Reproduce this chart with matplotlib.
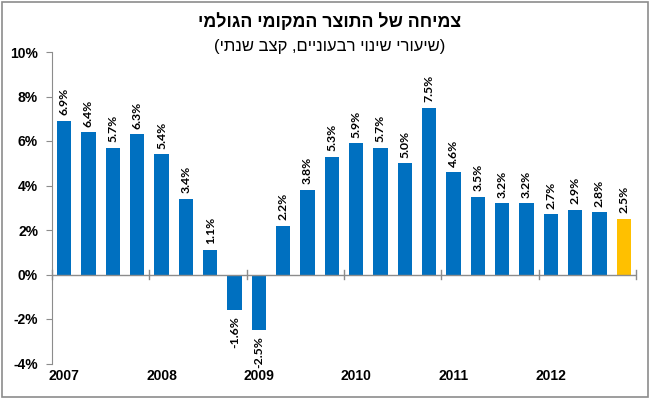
import matplotlib
matplotlib.use("Agg")
import matplotlib.pyplot as plt
from matplotlib.patches import Rectangle

title_logical = "צמיחה של התוצר המקומי הגולמי"
subtitle_logical = "(שיעורי שינוי רבעוניים, קצב שנתי)"
years = ["2007", "2008", "2009", "2010", "2011", "2012"]
values = [6.9, 6.4, 5.7, 6.3, 5.4, 3.4, 1.1, -1.6, -2.5, 2.2, 3.8, 5.3,
          5.9, 5.7, 5.0, 7.5, 4.6, 3.5, 3.2, 3.2, 2.7, 2.9, 2.8, 2.5]
yticks = [-4, -2, 0, 2, 4, 6, 8, 10]

def visual(s):
    r = s[::-1]
    return r.translate(str.maketrans("()", ")("))

plt.rcParams['font.family'] = ['Liberation Sans', 'DejaVu Sans']

fig = plt.figure(figsize=(6.5, 3.99), dpi=100)
fig.patches.append(Rectangle((0.003, 0.004), 0.994, 0.99, transform=fig.transFigure,
                             fill=False, edgecolor='#8c8c8c', linewidth=1.2))
ax = fig.add_axes([52/650, 1-363.5/399, (636-52)/650, (363.5-52)/399])

n = len(values)
x = list(range(n))
colors = ['#0070C0'] * (n - 1) + ['#FFC000']
ax.bar(x, values, width=0.59, color=colors, zorder=2)

lab_font = ['Lato', 'DejaVu Sans']
for xi, v in zip(x, values):
    if v >= 0:
        ax.text(xi, v + 0.25, f"{v:.1f}%", rotation=90, ha='center', va='bottom',
                fontsize=8.8, fontweight='bold', family=lab_font)
    else:
        ax.text(xi, v - 0.25, f"{v:.1f}%", rotation=90, ha='center', va='top',
                fontsize=8.8, fontweight='bold', family=lab_font)

ax.set_xlim(-0.5, n - 0.5)
ax.set_ylim(-4, 10)
ax.set_yticks(yticks)
ax.set_yticklabels([f"{t}%" for t in yticks], fontsize=10, fontweight='bold')
ax.tick_params(axis='y', direction='out', length=4, color='#8c8c8c', pad=6)

for s in ['top', 'right', 'bottom']:
    ax.spines[s].set_visible(False)
ax.spines['left'].set_color('#8c8c8c')
ax.axhline(0, color='#8c8c8c', linewidth=1, zorder=3)

ax.set_xticks([])
for k in range(0, n + 1, 4):
    ax.plot([k - 0.5, k - 0.5], [0.2, -0.2], color='#8c8c8c', linewidth=1, clip_on=False, zorder=3)
for i, yr in enumerate(years):
    ax.text(i * 4, -4.55, yr, ha='center', va='center', fontsize=10, fontweight='bold')

fig.text(330/650, 1 - 22/399, visual(title_logical), ha='center', va='center',
         fontsize=12.8, fontweight='bold')
fig.text(330/650, 1 - 47/399, visual(subtitle_logical), ha='center', va='center',
         fontsize=12)

fig.savefig("out.png", dpi=100)
